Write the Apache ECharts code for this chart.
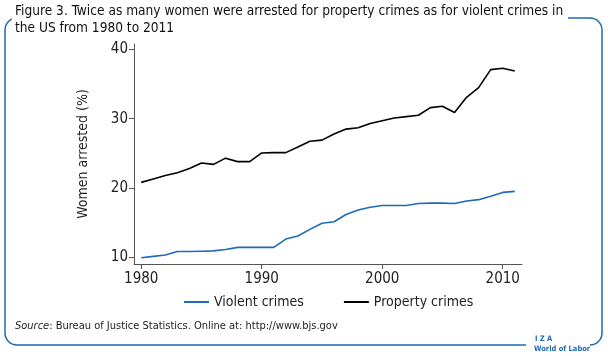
<!DOCTYPE html>
<html><head><meta charset="utf-8">
<script src="https://cdn.jsdelivr.net/npm/echarts@6/dist/echarts.min.js"></script>
<style>html,body{margin:0;padding:0;background:#fff}#c{width:608px;height:356px}</style>
</head><body><div id="c"></div>
<script>
const years = [];
for (let y = 1980; y <= 2011; y++) years.push(y);
const violent = [9.9,10.1,10.3,10.8,10.8,10.85,10.9,11.1,11.4,11.4,11.4,11.4,12.6,13.05,14.0,14.9,15.1,16.15,16.8,17.2,17.45,17.45,17.45,17.75,17.8,17.8,17.75,18.1,18.3,18.8,19.35,19.5];
const property = [20.8,21.3,21.8,22.2,22.8,23.6,23.4,24.3,23.8,23.8,25.05,25.1,25.1,25.9,26.75,26.9,27.8,28.5,28.7,29.3,29.7,30.1,30.3,30.5,31.6,31.8,30.9,33.1,34.5,37.1,37.3,36.9];
const xTicks = [1980,1990,2000,2010];
const yTicks = [10,20,30,40];
const titleText = 'Figure 3. Twice as many women were arrested for property crimes as for violent crimes in\nthe US from 1980 to 2011';

const FONT = '"Liberation Sans Narrow","DejaVu Sans Condensed",sans-serif';
const BLUE = '#1f6ab8';
const chart = echarts.init(document.getElementById('c'));
chart.setOption({
  animation: false,
  backgroundColor: '#fff',
  grid: {left: 134, right: 86, top: 44, bottom: 92},
  xAxis: {
    type: 'value', min: 1979.4, max: 2011.6,
    splitLine: {show: false},
    axisLine: {lineStyle: {color: '#555', width: 1}},
    axisTick: {customValues: xTicks, length: 5, lineStyle: {color: '#555'}},
    axisLabel: {customValues: xTicks, formatter: v => String(v), color: '#222', fontSize: 15, fontFamily: FONT, margin: 8}
  },
  yAxis: {
    type: 'value', min: 9, max: 40.8,
    name: 'Women arrested (%)', nameLocation: 'middle', nameGap: 44, nameRotate: 90,
    nameTextStyle: {color: '#222', fontSize: 14, fontFamily: FONT},
    splitLine: {show: false},
    axisLine: {show: true, lineStyle: {color: '#555', width: 1}},
    axisTick: {show: true, customValues: yTicks, length: 5, lineStyle: {color: '#555'}},
    axisLabel: {customValues: yTicks, formatter: v => String(v), color: '#222', fontSize: 15, fontFamily: FONT, margin: 6}
  },
  legend: {
    left: 184, top: 295, padding: 0, itemWidth: 25, itemHeight: 2, itemGap: 40, icon: 'rect',
    textStyle: {color: '#222', fontSize: 14, fontFamily: FONT},
    data: ['Violent crimes', 'Property crimes']
  },
  series: [
    {name: 'Violent crimes', type: 'line', data: years.map((y,i)=>[y, violent[i]]), showSymbol: false, lineStyle: {color: BLUE, width: 1.6}, itemStyle: {color: BLUE}},
    {name: 'Property crimes', type: 'line', data: years.map((y,i)=>[y, property[i]]), showSymbol: false, lineStyle: {color: '#000', width: 1.6}, itemStyle: {color: '#000'}}
  ],
  graphic: [
    {type: 'rect', z: 1, shape: {x: 5, y: 18, width: 597, height: 327, r: 12}, style: {fill: 'none', stroke: BLUE, lineWidth: 1.5}},
    {type: 'rect', z: 2, shape: {x: 12, y: 0, width: 556, height: 38}, style: {fill: '#fff'}},
    {type: 'rect', z: 2, shape: {x: 526, y: 335, width: 64, height: 21}, style: {fill: '#fff'}},
    {type: 'text', z: 3, left: 15, top: 3, style: {text: titleText, fill: '#111', font: '13.6px ' + FONT, lineHeight: 17}},
    {type: 'text', z: 3, left: 15, top: 321, style: {text: '{i|Source}: Bureau of Justice Statistics. Online at: http://www.bjs.gov', fill: '#222', font: '11px ' + FONT, rich: {i: {fontStyle: 'italic', fontSize: 11, fontFamily: FONT, fill: '#222'}}}},
    {type: 'text', z: 3, left: 535, top: 335, style: {text: 'I Z A', fill: BLUE, font: 'bold 7.5px ' + FONT}},
    {type: 'text', z: 3, left: 534, top: 345, style: {text: 'World of Labor', fill: BLUE, font: 'bold 7.5px ' + FONT}}
  ]
});
</script></body></html>
